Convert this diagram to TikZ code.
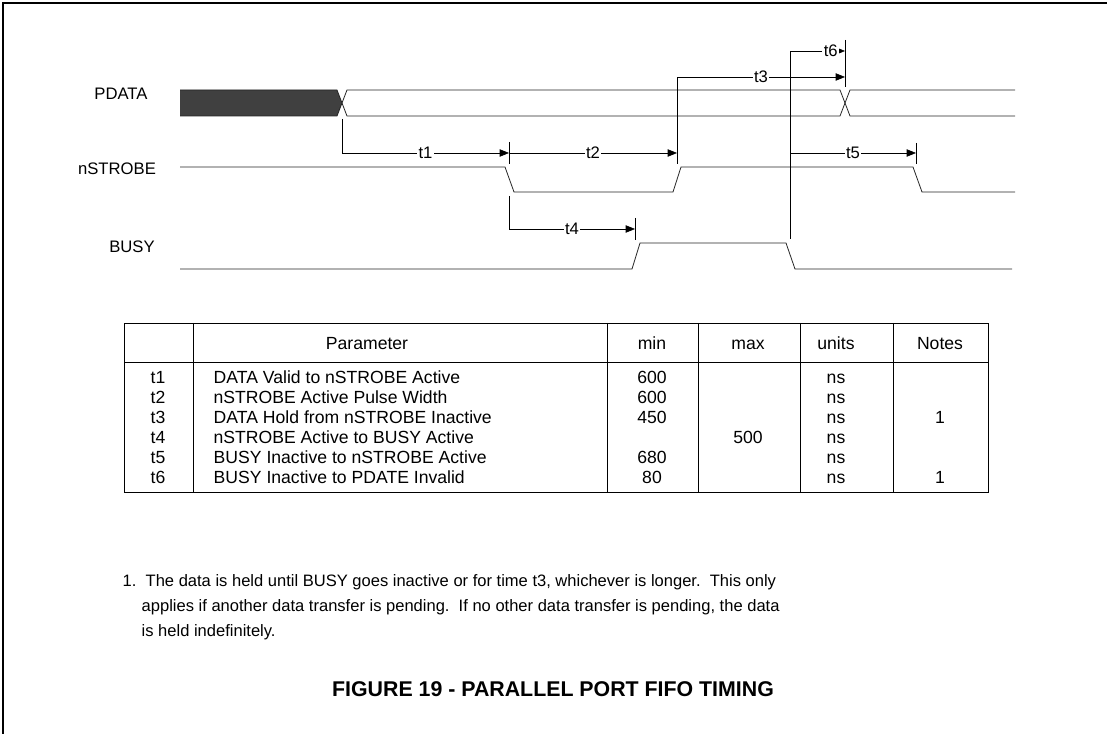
\documentclass[tikz,border=0pt]{standalone}
\usepackage{fontspec}
\setmainfont{Liberation Sans}
\usetikzlibrary{arrows.meta}

\tikzset{
  wave/.style={line width=.6pt, black!85},
  dim/.style={line width=.5pt, -{Triangle[length=7pt,width=5.5pt]}},
  tick/.style={line width=.5pt},
  tlabel/.style={fill=white, inner sep=1pt, font=\fontsize{12.5}{14}\selectfont},
  sig/.style={font=\fontsize{12.5}{14}\selectfont},
  cell/.style={font=\fontsize{13.2}{15}\selectfont, text height=1.6ex, text depth=.3ex},
  notetext/.style={font=\fontsize{12.4}{14}\selectfont, anchor=west}
}

\begin{document}
\begin{tikzpicture}[x=.75pt, y=-.75pt]
    \useasboundingbox (0,0) rectangle (1107,734);
    \draw [line width=1.5pt] (3,734) -- (3,3) -- (1107,3);

    % signal names
    \node [sig] (pdata) at (121,94) {PDATA};
    \node [sig] (nstrobe) at (117,169) {nSTROBE};
    \node [sig] (busy) at (132,247) {BUSY};

    % waveforms
    \fill [black!75] (180,90) -- (337,90) -- (342,103) -- (337,116) -- (180,116) -- cycle;
    \draw [wave] (180,90) -- (337,90) -- (347,116) -- (840,116) -- (850,90) -- (1015,90);
    \draw [wave] (180,116) -- (337,116) -- (347,90) -- (840,90) -- (850,116) -- (1015,116);
    \draw [wave] (180,167) -- (505,167) -- (514,192) -- (673,192) -- (681,167) -- (913,167) -- (922,192) -- (1015,192);
    \draw [wave] (180,269) -- (632,269) -- (640,243) -- (786,243) -- (795,269) -- (1012,269);

    % edge marks
    \coordinate (dvalid) at (342,119);
    \coordinate (sfall) at (509,153);
    \coordinate (srise) at (677,153);
    \coordinate (dinv) at (845,77);
    \coordinate (bfall) at (790,239);
    \draw [tick] (509,142) -- (509,164);
    \draw [tick] (845,40) -- (845,87);
    \draw [tick] (916,143) -- (916,164);
    \draw [tick] (635,218) -- (635,240);

    % timings
    \draw [dim] (dvalid) |- node [tlabel, pos=.75] {t1} (sfall);
    \draw [dim] (sfall) -- node [tlabel] {t2} (srise);
    \draw [dim] (677,164) |- node [tlabel, pos=.75] {t3} (dinv);
    \draw [dim] (bfall) |- node [tlabel, pos=.87] {t6} (845,51);
    \draw [dim] (790,153) -- node [tlabel] {t5} (916,153);
    \draw [dim] (509,196) |- node [tlabel, pos=.75] {t4} (635,229);

    % table
    \draw [line width=.6pt] (124,323) rectangle (988,492);
    \draw (124,362) -- (988,362);
    \foreach \x in {193,607,698,800,893}
      \draw (\x,323) -- (\x,492);
    \node [cell] (hpar) at (367,345) {Parameter};
    \node [cell] (hmin) at (652,345) {min};
    \node [cell] (hmax) at (748,345) {max};
    \node [cell] (hunit) at (836,345) {units};
    \node [cell] (hnote) at (940,345) {Notes};
    \foreach \n/\txt/\mn/\mx/\nt [count=\i] in {
      t1/{DATA Valid to nSTROBE Active}/600/{}/{},
      t2/{nSTROBE Active Pulse Width}/600/{}/{},
      t3/{DATA Hold from nSTROBE Inactive}/450/{}/1,
      t4/{nSTROBE Active to BUSY Active}/{}/500/{},
      t5/{BUSY Inactive to nSTROBE Active}/680/{}/{},
      t6/{BUSY Inactive to PDATE Invalid}/80/{}/1} {
      \node [cell] (sym\i) at (158,359+20*\i) {\n};
      \node [cell, anchor=west] (par\i) at (209,359+20*\i) {\txt};
      \node [cell] (min\i) at (652,359+20*\i) {\mn};
      \node [cell] (max\i) at (748,359+20*\i) {\mx};
      \node [cell] (unit\i) at (836,359+20*\i) {ns};
      \node [cell] (note\i) at (940,359+20*\i) {\nt};
    }

    % note and caption
    \node [notetext] (fn1) at (118,582) {1.\ \ The data is held until BUSY goes inactive or for time t3, whichever is longer.\ \ This only};
    \node [notetext] (fn2) at (137,607) {applies if another data transfer is pending.\ \ If no other data transfer is pending, the data};
    \node [notetext] (fn3) at (137,632) {is held indefinitely.};
    \node [font=\bfseries\fontsize{16}{18}\selectfont] (caption) at (553,689) {FIGURE 19 - PARALLEL PORT FIFO TIMING};
\end{tikzpicture}
\end{document}
